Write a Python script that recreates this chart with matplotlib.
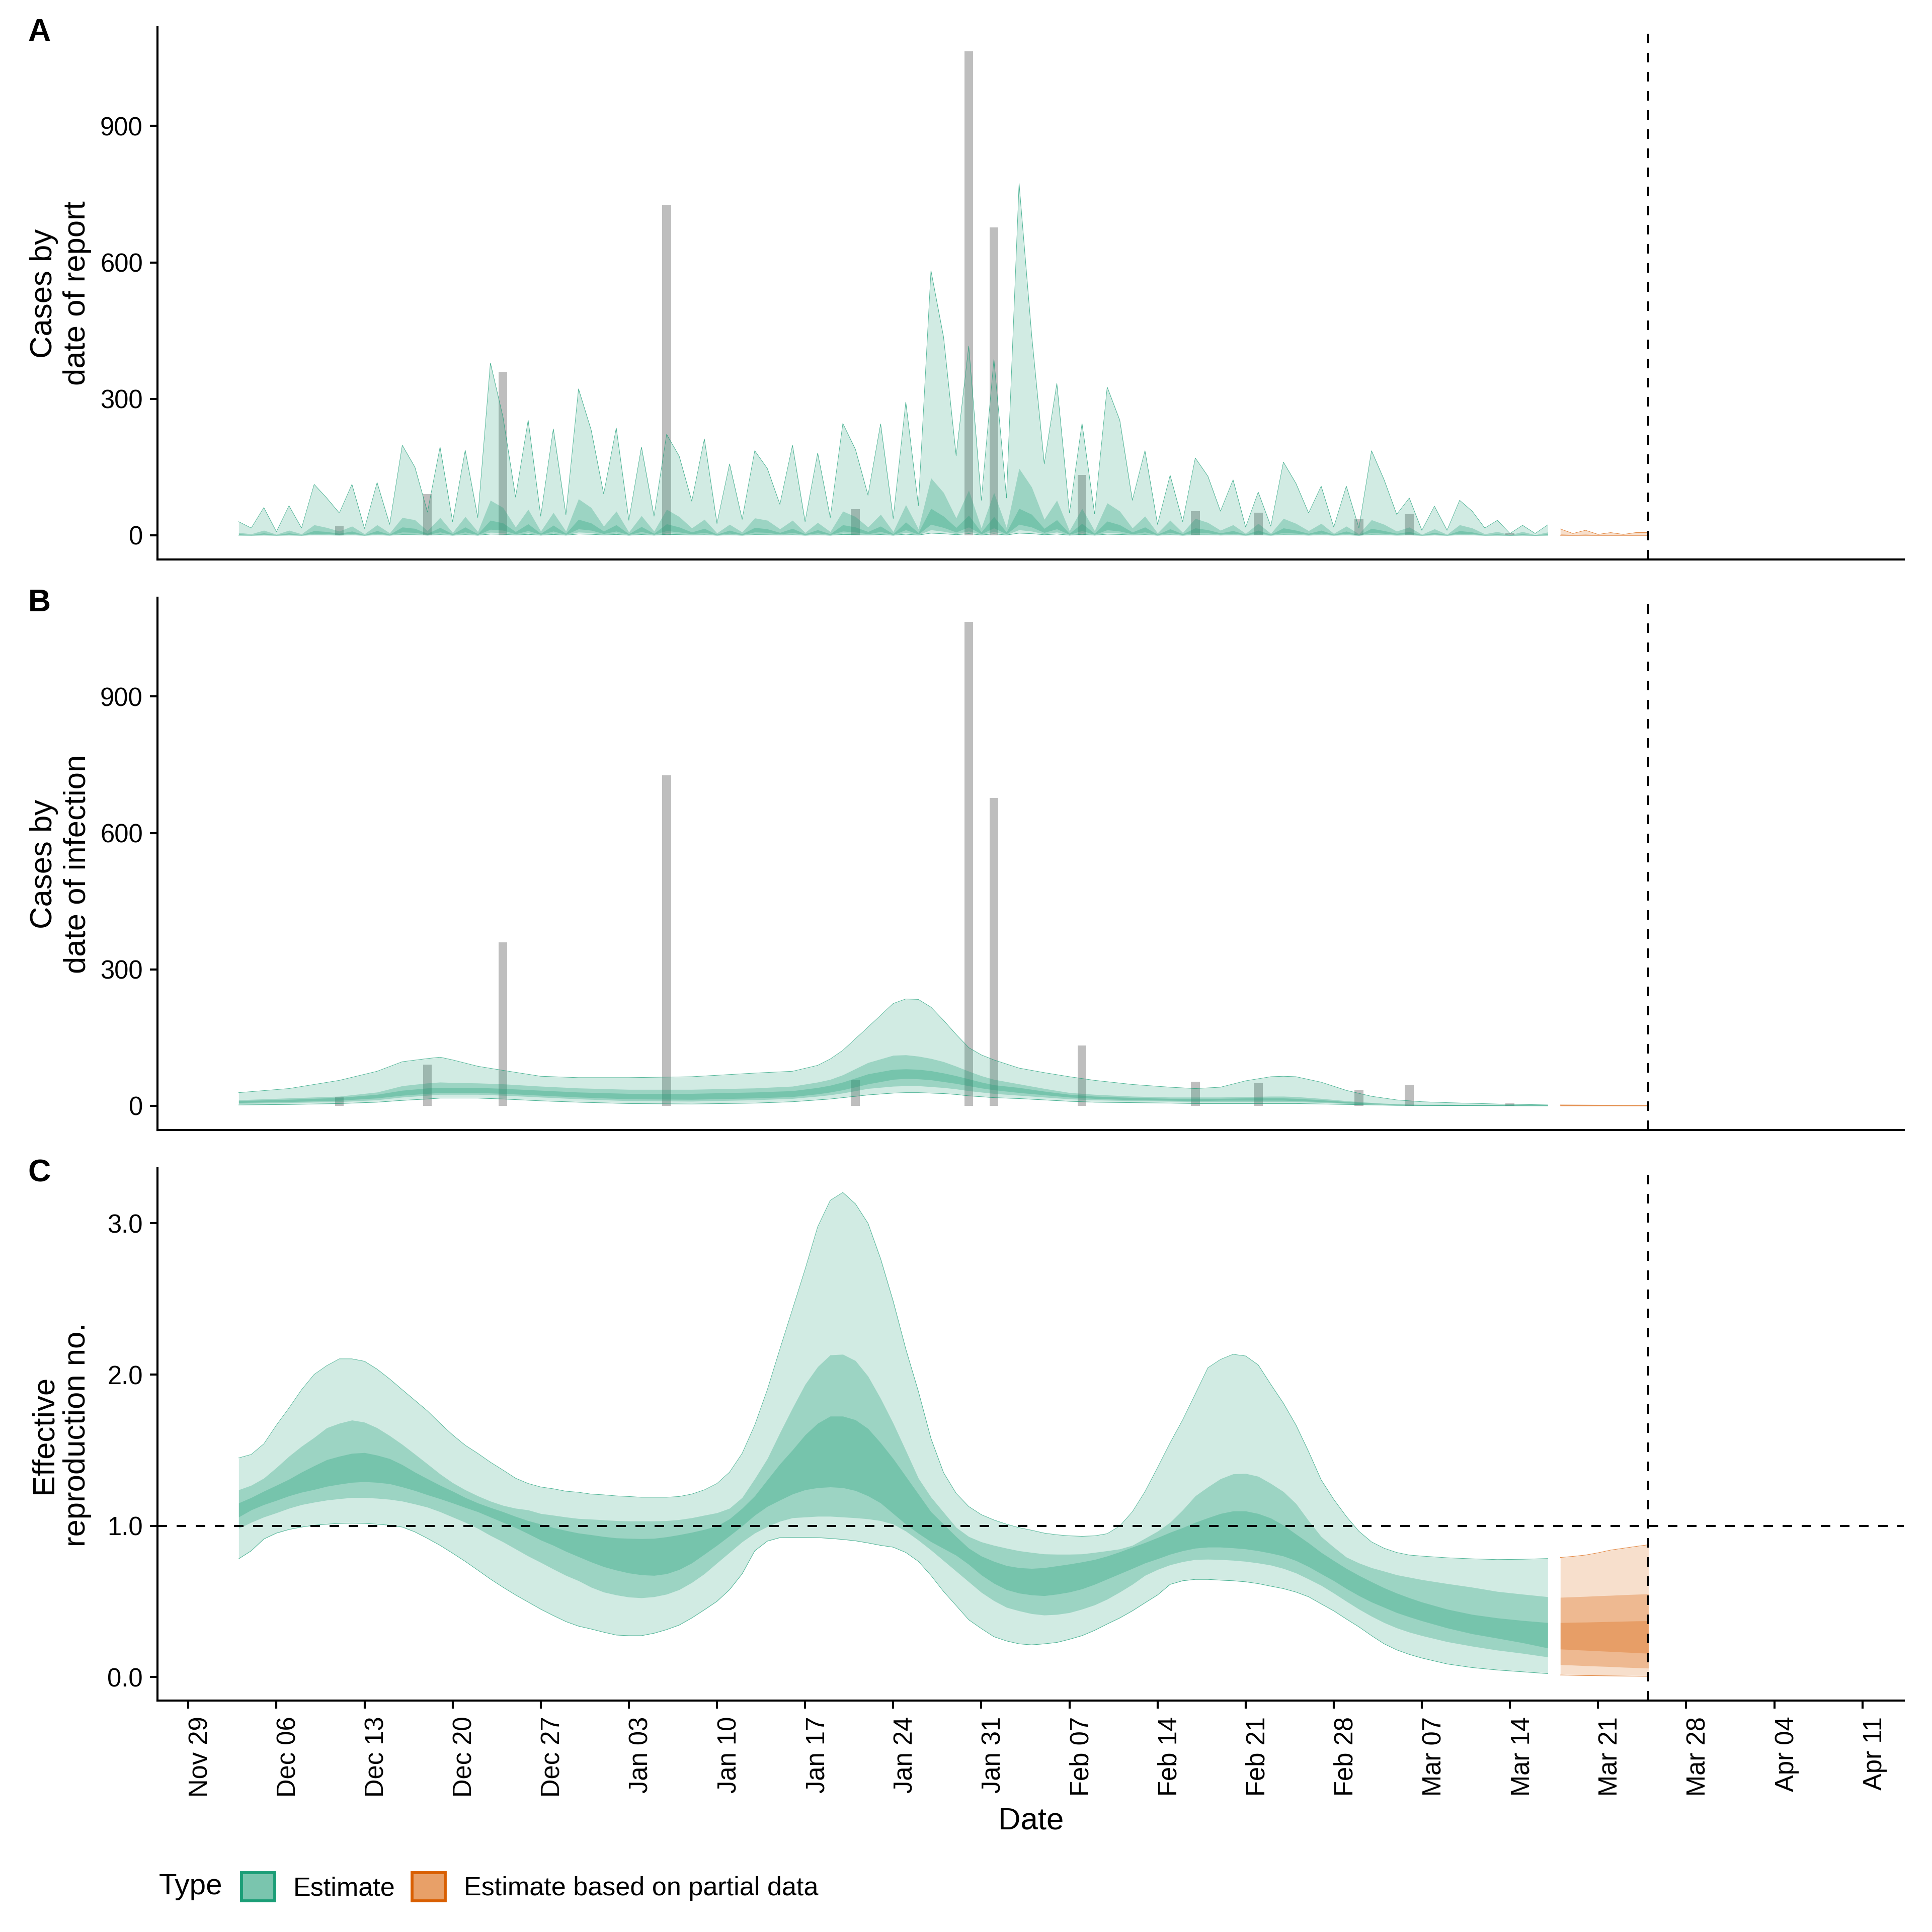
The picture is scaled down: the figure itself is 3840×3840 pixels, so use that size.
import pandas as pd
import matplotlib
matplotlib.use("Agg")
import matplotlib.pyplot as plt
from matplotlib.patches import Patch

plt.rcParams['font.family'] = ['Liberation Sans', 'DejaVu Sans']

GREEN = "#1B9E77"
ORANGE = "#D95F02"

# reported cases (grey bars, same in panels A and B)
bar_dates = pd.to_datetime(["2020-12-11", "2020-12-18", "2020-12-24", "2021-01-06", "2021-01-21",
                            "2021-01-30", "2021-02-01", "2021-02-08", "2021-02-17", "2021-02-22",
                            "2021-03-02", "2021-03-06", "2021-03-14"])
bar_cases = [20, 91, 360, 727, 57, 1064, 677, 133, 53, 50, 35, 46, 6]

# ---- A: cases by date of report, daily Dec 03 - Mar 17
a_hi90 = [30, 16, 61, 8, 65, 16, 112, 82, 49, 112,
          15, 116, 24, 198, 150, 51, 194, 30, 187, 39,
          379, 260, 84, 253, 42, 234, 45, 322, 232, 91,
          236, 33, 194, 42, 222, 174, 75, 212, 26, 157,
          35, 186, 147, 68, 198, 30, 181, 39, 246, 189,
          88, 245, 37, 293, 65, 582, 436, 175, 416, 77,
          387, 82, 774, 440, 157, 334, 49, 246, 47, 326,
          253, 77, 186, 24, 132, 30, 170, 130, 53, 122,
          18, 95, 20, 161, 114, 49, 108, 18, 108, 16,
          186, 122, 46, 82, 11, 64, 11, 77, 53, 16,
          33, 4, 22, 4, 23]
a_hi50 = [6, 3, 11, 2, 11, 3, 23, 17, 9, 20,
          3, 23, 5, 39, 34, 10, 39, 6, 41, 8,
          77, 61, 18, 57, 9, 50, 9, 80, 61, 20,
          53, 7, 43, 9, 57, 41, 16, 35, 5, 24,
          7, 38, 33, 14, 33, 6, 28, 8, 53, 41,
          18, 46, 8, 67, 14, 126, 94, 38, 99, 16,
          94, 17, 147, 106, 35, 77, 10, 59, 10, 71,
          53, 16, 42, 5, 33, 6, 37, 28, 11, 23,
          4, 26, 4, 37, 26, 10, 26, 4, 20, 3,
          34, 24, 9, 18, 2, 14, 2, 23, 16, 3,
          8, 1, 8, 1, 7]
a_hi20 = [3, 1, 5, 1, 5, 1, 10, 8, 4, 9,
          1, 10, 2, 18, 15, 4, 17, 3, 18, 3,
          33, 27, 8, 25, 4, 22, 4, 35, 27, 9,
          23, 3, 19, 4, 25, 18, 7, 15, 2, 11,
          3, 17, 14, 6, 15, 3, 12, 3, 23, 18,
          8, 20, 3, 29, 6, 59, 42, 17, 44, 7,
          41, 7, 59, 46, 15, 34, 4, 26, 4, 31,
          23, 7, 18, 2, 14, 3, 16, 12, 5, 10,
          2, 11, 2, 16, 11, 4, 11, 2, 9, 1,
          15, 10, 4, 8, 1, 6, 1, 10, 7, 1,
          3, 0.5, 3, 0.5, 3]
a_lo20 = [1.2, 0.4, 2, 0.4, 2, 0.4, 4, 3, 1.6, 3.6,
          0.4, 4, 0.8, 7, 6, 1.6, 7, 1.2, 7, 1.2,
          13, 11, 3, 10, 1.6, 9, 1.6, 14, 11, 3.6,
          9, 1.2, 8, 1.6, 10, 7, 3, 6, 0.8, 4.4,
          1.2, 7, 6, 2.4, 6, 1.2, 5, 1.2, 9, 7,
          3, 8, 1.2, 12, 2.4, 24, 17, 7, 18, 3,
          16, 3, 24, 18, 6, 14, 1.6, 10, 1.6, 12,
          9, 3, 7, 0.8, 6, 1.2, 6, 5, 2, 4,
          0.8, 4.4, 0.8, 6, 4.4, 1.6, 4.4, 0.8, 3.6, 0.4,
          6, 4, 1.6, 3, 0.4, 2.4, 0.4, 4, 3, 0.4,
          1.2, 0.2, 1.2, 0.2, 1.2]
a_lo50 = [0.6, 0.2, 1, 0.2, 1, 0.2, 2, 1.5, 0.8, 1.8,
          0.2, 2, 0.4, 3.5, 3, 0.8, 3.5, 0.6, 3.5, 0.6,
          6.5, 5.5, 1.5, 5, 0.8, 4.5, 0.8, 7, 5.5, 1.8,
          4.5, 0.6, 4, 0.8, 5, 3.5, 1.5, 3, 0.4, 2.2,
          0.6, 3.5, 3, 1.2, 3, 0.6, 2.5, 0.6, 4.5, 3.5,
          1.5, 4, 0.6, 6, 1.2, 12, 8.5, 3.5, 9, 1.5,
          8, 1.5, 12, 9, 3, 7, 0.8, 5, 0.8, 6,
          4.5, 1.5, 3.5, 0.4, 3, 0.6, 3, 2.5, 1, 2,
          0.4, 2.2, 0.4, 3, 2.2, 0.8, 2.2, 0.4, 1.8, 0.2,
          3, 2, 0.8, 1.5, 0.2, 1.2, 0.2, 2, 1.5, 0.2,
          0.6, 0.1, 0.6, 0.1, 0.6]
a_lo90 = [0.2, 0.1, 0.4, 0.1, 0.4, 0.1, 0.8, 0.6, 0.3, 0.7,
          0.1, 0.8, 0.2, 1.4, 1.2, 0.3, 1.4, 0.2, 1.4, 0.2,
          2.6, 2.2, 0.6, 2, 0.3, 1.8, 0.3, 2.8, 2.2, 0.7,
          1.8, 0.2, 1.6, 0.3, 2, 1.4, 0.6, 1.2, 0.2, 0.9,
          0.2, 1.4, 1.2, 0.5, 1.2, 0.2, 1, 0.2, 1.8, 1.4,
          0.6, 1.6, 0.2, 2.4, 0.5, 4.8, 3.4, 1.4, 3.6, 0.6,
          3.2, 0.6, 4.8, 3.6, 1.2, 2.8, 0.3, 2, 0.3, 2.4,
          1.8, 0.6, 1.4, 0.2, 1.2, 0.2, 1.2, 1, 0.4, 0.8,
          0.2, 0.9, 0.2, 1.2, 0.9, 0.3, 0.9, 0.2, 0.7, 0.1,
          1.2, 0.8, 0.3, 0.6, 0.1, 0.5, 0.1, 0.8, 0.6, 0.1,
          0.2, 0, 0.2, 0, 0.2]
# partial data, Mar 18 - Mar 25
a_p_hi90 = [14, 4, 11, 2, 6, 2, 6, 6]
a_p_hi50 = [3, 1, 2.5, 0.5, 1.5, 0.5, 1.5, 1.5]
a_p_hi20 = [1.5, 0.5, 1.2, 0.3, 0.7, 0.3, 0.7, 0.7]
a_p_lo20 = [0.6, 0.2, 0.5, 0.1, 0.3, 0.1, 0.3, 0.3]
a_p_lo50 = [0.3, 0.1, 0.2, 0.05, 0.15, 0.05, 0.15, 0.15]
a_p_lo90 = [0.05, 0, 0.05, 0, 0, 0, 0, 0]

# ---- B: cases by date of infection
b_dates = pd.to_datetime(["2020-12-03", "2020-12-07", "2020-12-11", "2020-12-14", "2020-12-16",
                          "2020-12-18", "2020-12-19", "2020-12-20", "2020-12-22", "2020-12-24",
                          "2020-12-27", "2020-12-30", "2021-01-03", "2021-01-08", "2021-01-13",
                          "2021-01-16", "2021-01-18", "2021-01-19", "2021-01-20", "2021-01-22",
                          "2021-01-24", "2021-01-25", "2021-01-26", "2021-01-27", "2021-01-28",
                          "2021-01-29", "2021-01-30", "2021-01-31", "2021-02-01", "2021-02-03",
                          "2021-02-05", "2021-02-07", "2021-02-09", "2021-02-12", "2021-02-15",
                          "2021-02-17", "2021-02-19", "2021-02-21", "2021-02-23", "2021-02-24",
                          "2021-02-25", "2021-02-27", "2021-03-01", "2021-03-03", "2021-03-05",
                          "2021-03-07", "2021-03-09", "2021-03-13", "2021-03-17"])
b_hi90 = [29, 38, 56, 76, 97, 104, 107, 101, 87, 78, 65, 62, 62, 64, 72, 76, 89, 103, 122, 173,
          225, 235, 234, 217, 188, 157, 128, 112, 101, 83, 73, 64, 56, 47, 41, 38, 41, 55, 64, 65,
          64, 52, 34, 21, 13, 9, 7, 4, 2]
b_hi50 = [13, 17, 21, 30, 44, 50, 52, 51, 50, 48, 43, 39, 36, 36, 39, 43, 52, 58, 68, 95,
          111, 112, 109, 104, 97, 87, 76, 66, 58, 48, 38, 29, 25, 21, 19, 19, 19, 20, 21, 21,
          20, 16, 11, 7, 4, 3, 3, 1.5, 1]
b_hi20 = [11, 14, 18, 25, 34, 39, 40, 40, 40, 38, 34, 30, 27, 27, 30, 33, 40, 45, 52, 70,
          80, 81, 80, 77, 72, 66, 59, 52, 46, 40, 32, 25, 21, 18, 16, 16, 16, 17, 17, 17,
          16, 13, 9, 6, 3.5, 2.5, 2, 1.2, 0.8]
b_lo20 = [7, 9, 12, 17, 23, 27, 29, 29, 29, 27, 23, 19, 15, 14, 17, 20, 26, 30, 35, 48,
          58, 60, 59, 57, 53, 49, 44, 39, 35, 29, 24, 19, 16, 13, 12, 11, 12, 12, 12, 12,
          11, 9, 6, 4, 2.5, 1.8, 1.5, 0.8, 0.5]
b_lo50 = [5, 7, 9, 13, 19, 23, 25, 25, 25, 23, 19, 15, 11, 10, 13, 16, 21, 24, 28, 38,
          43, 44, 44, 42, 40, 37, 33, 30, 27, 23, 19, 15, 13, 11, 10, 9, 9, 9, 9, 9,
          9, 7, 5, 3, 2, 1.3, 1, 0.5, 0.3]
b_lo90 = [2, 3, 5, 8, 12, 15, 17, 17, 17, 15, 11, 8, 5, 4, 6, 9, 13, 15, 18, 24,
          28, 29, 29, 28, 27, 25, 22, 20, 18, 16, 13, 10, 8, 7, 6, 5, 5, 5, 5, 5,
          5, 4, 3, 2, 1, 0.7, 0.5, 0.2, 0.1]
b_p_hi90 = [2, 1.9, 1.8, 1.7, 1.6, 1.6, 1.5, 1.5]
b_p_hi50 = [1, 1, 0.9, 0.9, 0.8, 0.8, 0.8, 0.7]
b_p_hi20 = [0.8, 0.8, 0.7, 0.7, 0.6, 0.6, 0.6, 0.5]
b_p_lo20 = [0.5, 0.5, 0.4, 0.4, 0.4, 0.3, 0.3, 0.3]
b_p_lo50 = [0.3, 0.3, 0.3, 0.2, 0.2, 0.2, 0.2, 0.2]
b_p_lo90 = [0.1, 0.1, 0.1, 0.1, 0.1, 0.05, 0.05, 0.05]

# ---- C: effective reproduction number, daily Dec 03 - Mar 07, then every 2nd day to Mar 17
c_dates = pd.date_range("2020-12-03", "2021-03-07").append(
    pd.to_datetime(["2021-03-09", "2021-03-11", "2021-03-13", "2021-03-15", "2021-03-17"]))
c_hi90 = [1.449, 1.472, 1.542, 1.666, 1.779, 1.900, 2.001, 2.059, 2.104, 2.104,
          2.088, 2.036, 1.971, 1.900, 1.830, 1.760, 1.678, 1.601, 1.533, 1.479,
          1.421, 1.369, 1.315, 1.280, 1.257, 1.245, 1.229, 1.222, 1.210, 1.205,
          1.198, 1.194, 1.189, 1.189, 1.189, 1.194, 1.210, 1.238, 1.280, 1.355,
          1.479, 1.666, 1.900, 2.169, 2.432, 2.696, 2.977, 3.152, 3.204, 3.129,
          3.000, 2.766, 2.485, 2.169, 1.889, 1.578, 1.352, 1.215, 1.128, 1.074,
          1.039, 1.011, 0.988, 0.971, 0.952, 0.941, 0.934, 0.931, 0.934, 0.948,
          0.999, 1.093, 1.226, 1.385, 1.549, 1.701, 1.872, 2.045, 2.100, 2.134,
          2.123, 2.064, 1.935, 1.811, 1.666, 1.491, 1.304, 1.175, 1.062, 0.964,
          0.894, 0.852, 0.824, 0.807, 0.800,
          0.789, 0.782, 0.777, 0.779, 0.784]
c_hi50 = [1.238, 1.268, 1.315, 1.385, 1.460, 1.526, 1.584, 1.648, 1.678, 1.699,
          1.685, 1.648, 1.596, 1.538, 1.474, 1.409, 1.343, 1.285, 1.238, 1.198,
          1.163, 1.135, 1.116, 1.105, 1.081, 1.070, 1.058, 1.048, 1.044, 1.039,
          1.034, 1.032, 1.032, 1.032, 1.034, 1.041, 1.053, 1.070, 1.086, 1.116,
          1.187, 1.311, 1.444, 1.615, 1.779, 1.935, 2.052, 2.130, 2.134, 2.092,
          1.989, 1.842, 1.678, 1.498, 1.315, 1.190, 1.090, 0.990, 0.929, 0.894,
          0.871, 0.852, 0.835, 0.824, 0.814, 0.812, 0.812, 0.814, 0.824, 0.835,
          0.847, 0.871, 0.917, 0.964, 1.023, 1.105, 1.198, 1.257, 1.311, 1.343,
          1.346, 1.327, 1.280, 1.226, 1.147, 1.034, 0.929, 0.859, 0.793, 0.754,
          0.723, 0.700, 0.676, 0.660, 0.644,
          0.618, 0.594, 0.566, 0.548, 0.531]
c_hi20 = [1.151, 1.187, 1.229, 1.268, 1.308, 1.355, 1.397, 1.437, 1.460, 1.479,
          1.484, 1.467, 1.444, 1.404, 1.355, 1.311, 1.268, 1.229, 1.187, 1.151,
          1.121, 1.093, 1.062, 1.034, 1.011, 0.988, 0.969, 0.952, 0.941, 0.929,
          0.920, 0.917, 0.915, 0.917, 0.927, 0.941, 0.957, 0.976, 0.999, 1.046,
          1.116, 1.198, 1.304, 1.409, 1.502, 1.601, 1.678, 1.725, 1.725, 1.701,
          1.643, 1.549, 1.444, 1.327, 1.210, 1.093, 1.011, 0.929, 0.852, 0.800,
          0.765, 0.737, 0.723, 0.718, 0.723, 0.735, 0.747, 0.761, 0.777, 0.800,
          0.828, 0.859, 0.889, 0.922, 0.957, 0.988, 1.023, 1.053, 1.081, 1.098,
          1.098, 1.081, 1.051, 1.004, 0.945, 0.887, 0.824, 0.770, 0.718, 0.672,
          0.630, 0.590, 0.555, 0.524, 0.496,
          0.449, 0.414, 0.391, 0.374, 0.360]
c_lo20 = [1.058, 1.105, 1.140, 1.168, 1.198, 1.222, 1.240, 1.261, 1.275, 1.287,
          1.292, 1.287, 1.278, 1.257, 1.233, 1.205, 1.179, 1.151, 1.121, 1.093,
          1.058, 1.023, 0.988, 0.948, 0.906, 0.871, 0.831, 0.796, 0.761, 0.730,
          0.707, 0.688, 0.676, 0.672, 0.683, 0.711, 0.754, 0.812, 0.871, 0.934,
          0.999, 1.070, 1.128, 1.170, 1.210, 1.238, 1.252, 1.257, 1.252, 1.233,
          1.198, 1.151, 1.081, 1.011, 0.950, 0.895, 0.850, 0.805, 0.745, 0.675,
          0.620, 0.578, 0.555, 0.543, 0.538, 0.548, 0.562, 0.583, 0.613, 0.648,
          0.683, 0.718, 0.754, 0.782, 0.812, 0.835, 0.852, 0.859, 0.859, 0.854,
          0.847, 0.835, 0.819, 0.800, 0.770, 0.730, 0.683, 0.637, 0.585, 0.538,
          0.496, 0.461, 0.426, 0.398, 0.372,
          0.325, 0.286, 0.257, 0.227, 0.192]
c_lo50 = [0.983, 1.023, 1.058, 1.086, 1.116, 1.140, 1.156, 1.170, 1.179, 1.187,
          1.187, 1.182, 1.175, 1.163, 1.144, 1.123, 1.093, 1.058, 1.023, 0.983,
          0.936, 0.894, 0.847, 0.800, 0.758, 0.714, 0.672, 0.637, 0.594, 0.562,
          0.543, 0.529, 0.524, 0.531, 0.548, 0.578, 0.625, 0.683, 0.754, 0.824,
          0.894, 0.952, 0.995, 1.030, 1.053, 1.058, 1.063, 1.063, 1.058, 1.053,
          1.046, 1.034, 1.011, 0.965, 0.905, 0.840, 0.770, 0.700, 0.630, 0.560,
          0.505, 0.461, 0.438, 0.419, 0.410, 0.414, 0.426, 0.449, 0.477, 0.515,
          0.562, 0.613, 0.672, 0.711, 0.742, 0.763, 0.777, 0.779, 0.777, 0.772,
          0.765, 0.754, 0.740, 0.718, 0.688, 0.648, 0.606, 0.555, 0.501, 0.449,
          0.402, 0.360, 0.325, 0.297, 0.274,
          0.234, 0.204, 0.178, 0.157, 0.133]
c_lo90 = [0.782, 0.835, 0.913, 0.952, 0.976, 0.992, 1.004, 1.011, 1.016, 1.018,
          1.016, 1.011, 1.004, 0.992, 0.960, 0.917, 0.871, 0.819, 0.765, 0.707,
          0.648, 0.594, 0.543, 0.496, 0.449, 0.407, 0.367, 0.337, 0.318, 0.297,
          0.278, 0.274, 0.274, 0.290, 0.314, 0.344, 0.391, 0.445, 0.501, 0.578,
          0.683, 0.835, 0.899, 0.922, 0.924, 0.924, 0.922, 0.917, 0.910, 0.901,
          0.887, 0.871, 0.859, 0.824, 0.765, 0.672, 0.566, 0.473, 0.379, 0.321,
          0.267, 0.239, 0.220, 0.213, 0.220, 0.229, 0.250, 0.274, 0.309, 0.351,
          0.391, 0.438, 0.491, 0.543, 0.613, 0.637, 0.646, 0.646, 0.641, 0.637,
          0.630, 0.618, 0.601, 0.585, 0.562, 0.531, 0.484, 0.438, 0.384, 0.332,
          0.274, 0.220, 0.180, 0.150, 0.126,
          0.087, 0.063, 0.047, 0.035, 0.023]
c_p_hi90 = [0.791, 0.798, 0.807, 0.822, 0.840, 0.852, 0.864, 0.875]
c_p_hi50 = [0.527, 0.530, 0.533, 0.537, 0.540, 0.544, 0.547, 0.550]
c_p_hi20 = [0.360, 0.362, 0.363, 0.365, 0.367, 0.369, 0.371, 0.372]
c_p_lo20 = [0.185, 0.181, 0.177, 0.173, 0.169, 0.165, 0.161, 0.157]
c_p_lo50 = [0.082, 0.079, 0.075, 0.072, 0.069, 0.065, 0.062, 0.059]
c_p_lo90 = [0.014, 0.012, 0.010, 0.009, 0.008, 0.007, 0.006, 0.005]

a_dates = pd.date_range("2020-12-03", periods=len(a_hi90))
p_dates = pd.date_range("2021-03-18", "2021-03-25")
last_date = pd.Timestamp("2021-03-25")
tick_dates = pd.date_range("2020-11-29", "2021-04-11", freq="7D")
origin = pd.Timestamp("2020-11-29")
x_lo = origin - pd.Timedelta(days=2.45)
x_hi = origin + pd.Timedelta(days=136.3)


def draw_ribbons(ax, x, lo90, lo50, lo20, hi20, hi50, hi90, color):
    ax.fill_between(x, lo90, hi90, color=color, alpha=0.2, lw=0, zorder=2)
    ax.plot(x, hi90, color=color, lw=0.22, alpha=0.8, zorder=2.1)
    ax.plot(x, lo90, color=color, lw=0.22, alpha=0.8, zorder=2.1)
    ax.fill_between(x, lo50, hi50, color=color, alpha=0.29, lw=0, zorder=2.2)
    ax.fill_between(x, lo20, hi20, color=color, alpha=0.29, lw=0, zorder=2.3)


def style(ax):
    for s in ["top", "right"]:
        ax.spines[s].set_visible(False)
    for s in ["left", "bottom"]:
        ax.spines[s].set_linewidth(1.0)
    ax.tick_params(axis="y", length=3.5, width=1.0, pad=3.5, labelsize=12.2)
    ax.set_xlim(x_lo, x_hi)
    ax.axvline(last_date, color="black", lw=0.95, ls=(0, (4.8, 4.8)), zorder=3)
    ax.yaxis.set_label_coords(-0.0377, 0.5)


fig = plt.figure(figsize=(12.8, 12.8), dpi=300)
L, W, H = 0.0815, 0.904, 0.2755
axA = fig.add_axes([L, 0.7104, W, H])
axB = fig.add_axes([L, 0.4151, W, H])
axC = fig.add_axes([L, 0.1198, W, H])

ymax = max(max(bar_cases), max(a_hi90))
for ax, bands, pbands, lab in [
        (axA, (a_lo90, a_lo50, a_lo20, a_hi20, a_hi50, a_hi90),
         (a_p_lo90, a_p_lo50, a_p_lo20, a_p_hi20, a_p_hi50, a_p_hi90), "Cases by\ndate of report"),
        (axB, (b_lo90, b_lo50, b_lo20, b_hi20, b_hi50, b_hi90),
         (b_p_lo90, b_p_lo50, b_p_lo20, b_p_hi20, b_p_hi50, b_p_hi90), "Cases by\ndate of infection")]:
    ax.bar(bar_dates, bar_cases, width=0.7, color="#bebebe", lw=0, zorder=1)
    x = a_dates if ax is axA else b_dates
    draw_ribbons(ax, x, *bands, GREEN)
    draw_ribbons(ax, p_dates, *pbands, ORANGE)
    ax.set_ylim(-0.05 * ymax, 1.05 * ymax)
    ax.set_yticks([0, 300, 600, 900])
    ax.set_ylabel(lab, fontsize=14.8)
    ax.tick_params(axis="x", bottom=False, labelbottom=False)
    style(ax)

draw_ribbons(axC, c_dates, c_lo90, c_lo50, c_lo20, c_hi20, c_hi50, c_hi90, GREEN)
draw_ribbons(axC, p_dates, c_p_lo90, c_p_lo50, c_p_lo20, c_p_hi20, c_p_hi50, c_p_hi90, ORANGE)
axC.axhline(1.0, color="black", lw=0.95, ls=(0, (4.8, 4.8)), zorder=3)
rmin, rmax = min(c_p_lo90), max(c_hi90)
axC.set_ylim(rmin - 0.05 * (rmax - rmin), rmax + 0.05 * (rmax - rmin))
axC.set_yticks([0, 1, 2, 3])
axC.set_yticklabels(["0.0", "1.0", "2.0", "3.0"])
axC.set_ylabel("Effective\nreproduction no.", fontsize=14.8)
style(axC)
axC.set_xticks(tick_dates)
axC.set_xticklabels([d.strftime("%b %d") for d in tick_dates], rotation=90, ha="left", va="top")
axC.tick_params(axis="x", length=3.8, width=1.0, pad=3.8, labelsize=12.2)
axC.set_xlabel("Date", fontsize=14.8, va="top")
axC.xaxis.set_label_coords(0.5, -0.2)

for tag, y in [("A", 0.9833), ("B", 0.6878), ("C", 0.3927)]:
    fig.text(0.0203, y, tag, fontsize=15, fontweight="bold", ha="center", va="center")

# legend
fig.text(0.0823, 0.0234, "Type", fontsize=14, ha="left", va="center")
handles = [Patch(facecolor="#7ac5ae", edgecolor=GREEN, lw=1.4),
           Patch(facecolor="#e8a068", edgecolor=ORANGE, lw=1.4)]
fig.legend(handles, ["Estimate", "Estimate based on partial data"], ncol=2,
           loc="center left", bbox_to_anchor=(0.125, 0.0234), frameon=False,
           fontsize=12.5, borderpad=0, borderaxespad=0, handlelength=1.27, handleheight=1.29,
           handletextpad=0.71, columnspacing=0.63)

fig.savefig("out.png", dpi=300)
